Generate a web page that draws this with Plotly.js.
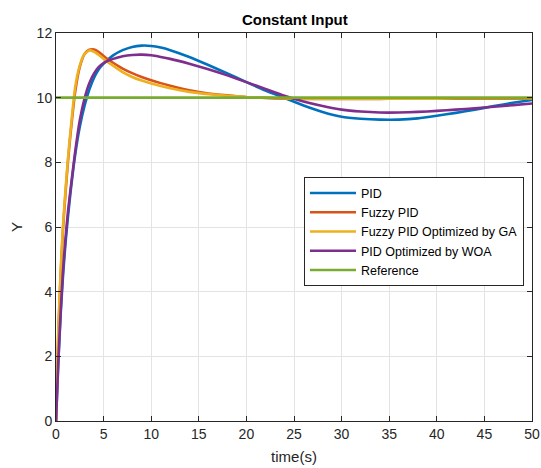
<!DOCTYPE html>
<html>
<head>
<meta charset="utf-8">
<script src="https://cdn.plot.ly/plotly-3.0.1.min.js"></script>
<style>html,body{margin:0;padding:0;background:#fff;}</style>
</head>
<body>
<div id="chart" style="width:541px;height:468px;"></div>
<script>
const time = [0,0.25,0.5,0.75,1,1.25,1.5,2,2.5,3,3.5,4,4.5,5,5.5,6,7,8,9,10,11,12,14,16,18,20,22,24,26,28,30,32,34,36,38,40,42,44,46,48,50];
const pid      = [0,1.85,3.35,4.55,5.5,6.3,7.0,8.2,9.1,9.75,10.25,10.62,10.88,11.05,11.19,11.31,11.47,11.57,11.61,11.6,11.55,11.47,11.26,11.01,10.75,10.48,10.22,9.99,9.76,9.56,9.41,9.35,9.32,9.32,9.36,9.44,9.53,9.63,9.74,9.84,9.93];
const fuzzyPid = [0,2.8,4.6,6.0,7.05,8.0,8.8,10.15,10.95,11.35,11.48,11.49,11.41,11.29,11.18,11.08,10.9,10.76,10.64,10.54,10.45,10.37,10.23,10.13,10.07,10.02,9.99,9.97,9.96,9.96,9.96,9.96,9.96,9.97,9.97,9.97,9.97,9.97,9.97,9.97,9.97];
const fuzzyGA  = [0,2.9,4.7,6.1,7.15,8.1,8.9,10.3,11.0,11.35,11.46,11.42,11.32,11.2,11.09,10.99,10.79,10.64,10.53,10.44,10.36,10.29,10.18,10.11,10.06,10.02,10.0,9.98,9.97,9.97,9.97,9.97,9.97,9.97,9.97,9.97,9.98,9.98,9.98,9.98,9.98];
const woa      = [0,1.9,3.45,4.7,5.65,6.45,7.1,8.3,9.3,9.98,10.45,10.75,10.95,11.07,11.15,11.2,11.28,11.32,11.33,11.31,11.26,11.2,11.05,10.88,10.69,10.48,10.27,10.06,9.88,9.74,9.63,9.57,9.54,9.54,9.56,9.59,9.63,9.67,9.72,9.77,9.82];
const refTime = [0,50];
const reference = [10,10];

const names = ["PID","Fuzzy PID","Fuzzy PID Optimized by GA","PID Optimized by WOA","Reference"];
const colors = ["#0072BD","#D95319","#EDB120","#7E2F8E","#77AC30"];
const series = [pid,fuzzyPid,fuzzyGA,woa];

const traces = series.map((s,i)=>({
  x: time, y: s, type:"scatter", mode:"lines", name: names[i],
  line:{color:colors[i], width:2.6, shape:"spline", smoothing:0.5}
}));
traces.push({x:refTime, y:reference, type:"scatter", mode:"lines", name:names[4],
  line:{color:colors[4], width:2.6}});

const axisCommon = {
  showline:true, linecolor:"#262626", linewidth:1, mirror:"ticks",
  ticks:"inside", ticklen:5, tickcolor:"#262626",
  showgrid:true, gridcolor:"#e3e3e3", gridwidth:1, zeroline:false,
  tickfont:{family:"Liberation Sans, Arial, sans-serif", size:14, color:"#262626"}
};

const layout = {
  width:541, height:468,
  margin:{l:56, r:9, t:33, b:47},
  paper_bgcolor:"#ffffff", plot_bgcolor:"#ffffff",
  font:{family:"Liberation Sans, Arial, sans-serif", color:"#262626"},
  title:{text:"<b>Constant Input</b>", x:0.545, xanchor:"center", y:0.958, yanchor:"middle",
    font:{family:"Liberation Sans, Arial, sans-serif", size:15, color:"#000"}},
  xaxis: Object.assign({}, axisCommon, {range:[0,50], dtick:5, tick0:0,
    title:{text:"time(s)", standoff:10, font:{family:"Liberation Sans, Arial, sans-serif", size:15, color:"#262626"}}}),
  yaxis: Object.assign({}, axisCommon, {range:[0,12], dtick:2, tick0:0,
    title:{text:"Y", standoff:10, font:{family:"Liberation Sans, Arial, sans-serif", size:15, color:"#262626"}}}),
  showlegend:true,
  legend:{x:0.521, y:0.628, xanchor:"left", yanchor:"top",
    bgcolor:"#ffffff", bordercolor:"#262626", borderwidth:1,
    font:{family:"Liberation Sans, Arial, sans-serif", size:12.5, color:"#000"},
    tracegroupgap:0, itemwidth:46}
};

Plotly.newPlot("chart", traces, layout, {displayModeBar:false, staticPlot:true});
</script>
</body>
</html>
